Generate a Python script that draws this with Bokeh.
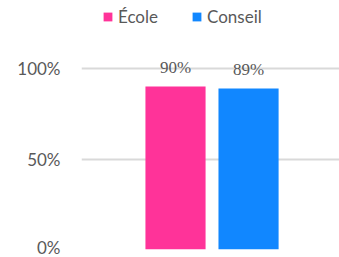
from bokeh.plotting import figure
from bokeh.models import (Range1d, ColumnDataSource, LabelSet, Legend, LegendItem,
                          FixedTicker, NumeralTickFormatter)
from bokeh.embed import file_html
from bokeh.resources import INLINE

series = ["École", "Conseil"]
values = [0.90, 0.89]
labels = ["90%", "89%"]
colors = ["#FF3399", "#1187FF"]
y_ticks = [0, 0.5, 1.0]

FONT = "Lato"
GRAY = "#595959"

p = figure(width=339, height=257, output_backend="svg", toolbar_location=None,
           x_range=Range1d(-0.5058, 0.494), y_range=Range1d(0, 1.3757),
           min_border_left=81, min_border_right=0, min_border_top=0, min_border_bottom=8)
p.outline_line_color = None
p.background_fill_color = "white"
p.border_fill_color = "white"

offsets = [-0.1415, 0.1415]
bar_w = 0.233
src = ColumnDataSource(dict(x=offsets, top=values, color=colors, label=labels, name=series))

renderers = []
for i in range(len(series)):
    s = ColumnDataSource(dict(x=[offsets[i]], top=[values[i]]))
    r = p.vbar(x="x", top="top", width=bar_w, source=s, color=colors[i], line_color=None)
    renderers.append(r)

ls = LabelSet(x="x", y="top", text="label", source=src, text_align="center",
              text_baseline="middle", y_offset=19, text_font=FONT,
              text_font_size="17px", text_color=GRAY)
p.add_layout(ls)

p.xaxis.visible = False
p.xgrid.visible = False
p.yaxis.ticker = FixedTicker(ticks=y_ticks)
p.yaxis.formatter = NumeralTickFormatter(format="0%")
p.yaxis.axis_line_color = None
p.yaxis.major_tick_line_color = None
p.yaxis.minor_tick_line_color = None
p.yaxis.major_tick_out = 0
p.yaxis.major_label_standoff = 21
p.yaxis.major_label_text_font = FONT
p.yaxis.major_label_text_font_size = "17px"
p.yaxis.major_label_text_color = GRAY
p.ygrid.ticker = FixedTicker(ticks=y_ticks)
p.ygrid.grid_line_color = "#D9D9D9"
p.ygrid.grid_line_width = 2

legend = Legend(items=[LegendItem(label=series[i], renderers=[renderers[i]]) for i in range(len(series))],
                orientation="horizontal", location=(21, 222),
                padding=0, margin=0, spacing=33,
                glyph_width=11, glyph_height=11, label_standoff=5, label_height=16,
                label_text_font=FONT, label_text_font_size="17px", label_text_color=GRAY,
                border_line_alpha=0, background_fill_alpha=0)
p.add_layout(legend, "center")

open("out.html", "w").write(file_html(p, INLINE))
